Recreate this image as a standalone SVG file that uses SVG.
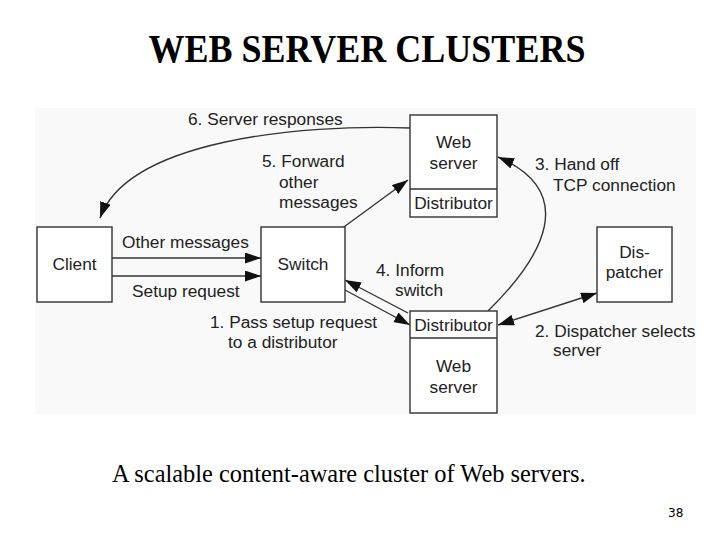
<svg xmlns="http://www.w3.org/2000/svg" width="728" height="546" viewBox="0 0 728 546">
<style>
.box{fill:#ffffff;stroke:#333;stroke-width:1.4}
.lbl{font-family:"Liberation Sans",Arial,sans-serif;font-size:17.3px;fill:#222}
.c{text-anchor:middle}
.ln{fill:none;stroke:#333;stroke-width:1.4}
</style>
<defs>
<marker id="ah" viewBox="0 0 16 11" refX="16" refY="5.5" markerWidth="16" markerHeight="11" markerUnits="userSpaceOnUse" orient="auto-start-reverse">
<path d="M0,0 L16,5.5 L0,11 Z" fill="#111"/>
</marker>
</defs>
<rect width="728" height="546" fill="#ffffff"/>
<rect x="35" y="108" width="661" height="306" fill="#f9f9f9"/>
<text x="367" y="62" transform="translate(367,62) scale(1,1.12) translate(-367,-62)" text-anchor="middle" font-family="'Liberation Serif','Times New Roman',serif" font-weight="bold" font-size="36" fill="#000">WEB SERVER CLUSTERS</text>

<g id="connectors">
<path class="ln" d="M410,128 C300,124 128,140 100,218" marker-end="url(#ah)"/>
<path class="ln" d="M337,232 L408,180" marker-end="url(#ah)"/>
<path class="ln" d="M112,258 L261,258" marker-end="url(#ah)"/>
<path class="ln" d="M112,276 L261,276" marker-end="url(#ah)"/>
<path class="ln" d="M408,313 L345,280" marker-end="url(#ah)"/>
<path class="ln" d="M345,290 L410,325" marker-end="url(#ah)"/>
<path class="ln" d="M488,311 C545,255 578,192 498,157" marker-end="url(#ah)"/>
<path class="ln" d="M498,325 L597,293" marker-start="url(#ah)" marker-end="url(#ah)"/>
</g>

<g id="client">
<rect class="box" x="37" y="227" width="75" height="75"/>
<text class="lbl c" x="74.5" y="270">Client</text>
</g>
<g id="switch">
<rect class="box" x="261" y="227" width="84" height="75"/>
<text class="lbl c" x="303" y="270">Switch</text>
</g>
<g id="webserver-top">
<rect class="box" x="410" y="115" width="87" height="102"/>
<line class="ln" x1="410" y1="189" x2="497" y2="189"/>
<text class="lbl c" x="453.5" y="148">Web</text>
<text class="lbl c" x="453.5" y="169">server</text>
<text class="lbl c" x="453.5" y="209">Distributor</text>
</g>
<g id="webserver-bottom">
<rect class="box" x="410" y="311" width="87" height="102"/>
<line class="ln" x1="410" y1="338" x2="497" y2="338"/>
<text class="lbl c" x="453.5" y="331">Distributor</text>
<text class="lbl c" x="453.5" y="372">Web</text>
<text class="lbl c" x="453.5" y="393">server</text>
</g>
<g id="dispatcher">
<rect class="box" x="597" y="227" width="75" height="75"/>
<text class="lbl c" x="634.5" y="258">Dis-</text>
<text class="lbl c" x="634.5" y="278">patcher</text>
</g>

<g id="labels">
<text class="lbl" x="188" y="125">6. Server responses</text>
<text class="lbl" x="262" y="167">5. Forward</text>
<text class="lbl" x="279" y="188">other</text>
<text class="lbl" x="279" y="208">messages</text>
<text class="lbl" x="535" y="170">3. Hand off</text>
<text class="lbl" x="553" y="191">TCP connection</text>
<text class="lbl" x="122" y="248">Other messages</text>
<text class="lbl" x="132" y="297">Setup request</text>
<text class="lbl" x="376" y="276">4. Inform</text>
<text class="lbl" x="395" y="296">switch</text>
<text class="lbl" x="210" y="328">1. Pass setup request</text>
<text class="lbl" x="228" y="348">to a distributor</text>
<text class="lbl" x="535" y="337">2. Dispatcher selects</text>
<text class="lbl" x="553" y="356">server</text>
</g>

<text x="112" y="482" font-family="'Liberation Serif','Times New Roman',serif" font-size="24.4" fill="#000">A scalable content-aware cluster of Web servers.</text>
<text x="668" y="517" font-family="'DejaVu Sans',sans-serif" font-size="12" fill="#000">38</text>
</svg>
